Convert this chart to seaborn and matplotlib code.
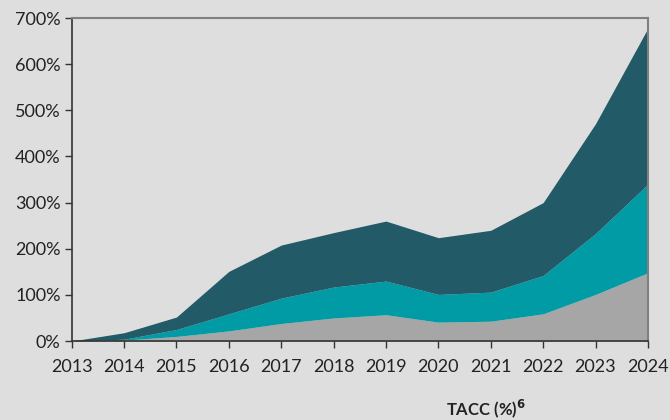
import matplotlib.pyplot as plt
import seaborn as sns
import numpy as np

years = [2013, 2014, 2015, 2016, 2017, 2018, 2019, 2020, 2021, 2022, 2023, 2024]
# cumulative levels (%)
bottom_level = [0, 2, 10, 22, 38, 50, 57, 41, 43, 59, 101, 148]
middle_level = [0, 4, 25, 59, 93, 117, 130, 101, 106, 142, 233, 340]
top_level = [0, 18, 52, 151, 208, 235, 260, 224, 240, 300, 471, 678]

gray_part = np.array(bottom_level)
teal_part = np.array(middle_level) - gray_part
dark_part = np.array(top_level) - np.array(middle_level)

colors = ['#a6a6a6', '#009ba4', '#225a67']
bg = '#dedede'

sns.set_style('ticks')
plt.rcParams['font.family'] = ['Lato', 'DejaVu Sans']

fig = plt.figure(figsize=(6.7, 4.2), dpi=100, facecolor=bg)
ax = fig.add_axes([0.107, 0.188, 0.86, 0.769])
ax.set_facecolor(bg)

ax.stackplot(years, gray_part, teal_part, dark_part, colors=colors, linewidth=0)

ax.set_xlim(2013, 2024)
ax.set_ylim(0, 700)
ax.set_xticks(years)
ax.set_xticklabels([str(y) for y in years], fontsize=13, color='#222222')
ax.set_yticks(range(0, 701, 100))
ax.set_yticklabels([f'{v}%' for v in range(0, 701, 100)], fontsize=13, color='#222222')
ax.tick_params(axis='both', direction='out', length=5, width=1, color='#333333')
ax.tick_params(axis='x', pad=8)
ax.tick_params(axis='y', pad=3)

for side in ['left', 'bottom']:
    ax.spines[side].set_color('#333333')
    ax.spines[side].set_linewidth(1.2)
for side in ['top', 'right']:
    ax.spines[side].set_color('#808080')
    ax.spines[side].set_linewidth(1.5)

fig.text(0.725, 0.028, 'TACC (%)$^{\\mathbf{6}}$', ha='center', va='center',
         fontsize=12, fontweight='bold', color='#222222')

fig.savefig('out.png', dpi=100, facecolor=bg)
